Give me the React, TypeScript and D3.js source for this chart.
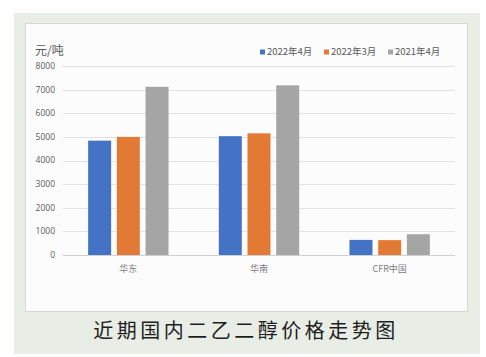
import React from "react";
import * as d3 from "d3";

const categories = ["华东", "华南", "CFR中国"];
const seriesNames = ["2022年4月", "2022年3月", "2021年4月"];
const seriesColors = ["#4472c4", "#e27a36", "#a5a5a5"];
const values2022Apr = [4840, 5030, 640];
const values2022Mar = [5000, 5150, 630];
const values2021Apr = [7120, 7180, 880];
const yTicks = [0, 1000, 2000, 3000, 4000, 5000, 6000, 7000, 8000];
const unitLabel = "元/吨";
const title = "近期国内二乙二醇价格走势图";

const seriesValues = [values2022Apr, values2022Mar, values2021Apr];

export default function App() {
  const W = 486, H = 357;
  const plotLeft = 63, plotRight = 455, plotTop = 66, plotBottom = 255;
  const x0 = d3.scaleBand<string>().domain(categories).range([plotLeft, plotRight]).padding(0);
  const y = d3.scaleLinear().domain([0, 8000]).range([plotBottom, plotTop]);
  const barW = 23, gap = 5.7;
  const groupW = barW * 3 + gap * 2;
  const fontSans = "'Noto Sans CJK SC', 'Noto Sans', sans-serif";
  const legendX = [260, 324, 388];

  return (
    <svg width={W} height={H} style={{ position: "absolute", left: 0, top: 0 }} fontFamily={fontSans}>
      <rect x={0} y={0} width={W} height={H} fill="#ffffff" />
      <rect x={14} y={13} width={466} height={341} fill="#e8ede6" />
      <rect x={25.5} y={23.5} width={442} height={288} fill="#fcfcfc" stroke="#d6d8d4" strokeWidth={1} />

      <text x={35} y={55} fontSize={12} fill="#595959">{unitLabel}</text>

      {yTicks.map((t) => (
        <g key={t}>
          <line x1={plotLeft} x2={plotRight} y1={Math.round(y(t)) + 0.5} y2={Math.round(y(t)) + 0.5}
            stroke={t === 0 ? "#d0d0d0" : "#e2e2e2"} strokeWidth={1} />
          <text x={55} y={y(t)} dy="0.35em" textAnchor="end" fontSize={8.5} fill="#595959"
            fontFamily="'Open Sans', 'Noto Sans', sans-serif">{t}</text>
        </g>
      ))}

      {categories.map((c, ci) => {
        const cx = (x0(c) as number) + x0.bandwidth() / 2;
        const start = cx - groupW / 2;
        return (
          <g key={c}>
            {seriesValues.map((vals, si) => (
              <rect key={si} x={start + si * (barW + gap)} y={y(vals[ci])} width={barW}
                height={y(0) - y(vals[ci])} fill={seriesColors[si]} />
            ))}
            <text x={cx} y={269} dy="0.35em" textAnchor="middle" fontSize={9} fill="#7f7f7f">{c}</text>
          </g>
        );
      })}

      {seriesNames.map((s, i) => (
        <g key={s}>
          <rect x={legendX[i]} y={49.5} width={5} height={5} fill={seriesColors[i]} />
          <text x={legendX[i] + 7} y={52} dy="0.35em" fontSize={9.5} fill="#595959">{s}</text>
        </g>
      ))}

      <text x={246} y={331} dy="0.35em" textAnchor="middle" fontSize={20} letterSpacing={3.5} fill="#1e1e1e">{title}</text>
    </svg>
  );
}
